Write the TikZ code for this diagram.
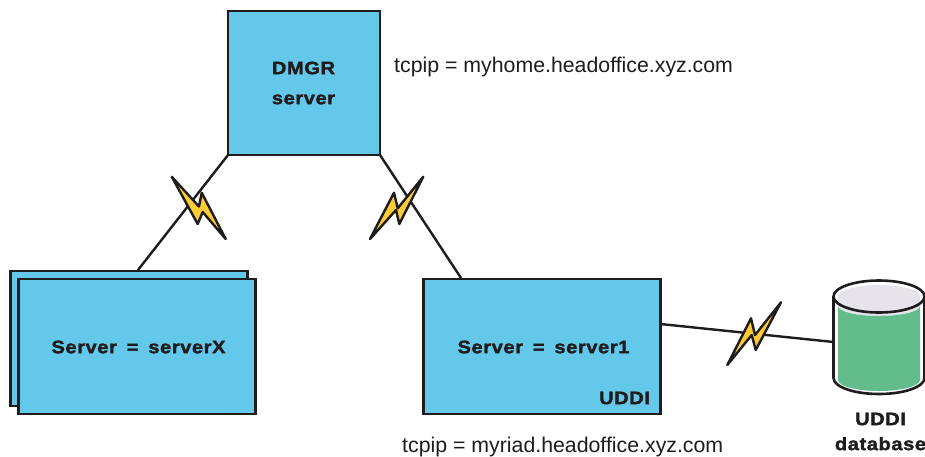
\documentclass[tikz,border=0pt]{standalone}
\usepackage{fontspec}
\setmainfont{Liberation Sans}
\newfontfamily\heavyfont[FakeStretch=1.12,FakeBold=1.8,WordSpace=1.6,LetterSpace=3]{Liberation Sans Bold}
\definecolor{boxblue}{HTML}{64C8EB}
\definecolor{inkline}{HTML}{1E1C1D}
\definecolor{boltyellow}{HTML}{FCCB35}
\definecolor{dbgreen}{HTML}{63BC8C}
\definecolor{dbgrey}{HTML}{E6E4EA}
\tikzset{
  serverbox/.style={draw=inkline,fill=boxblue,line width=2.9pt,minimum width=236pt,minimum height=134pt,inner sep=0pt,outer sep=0pt,anchor=north west},
  heavytext/.style={font=\heavyfont\fontsize{18}{25}\selectfont,text=inkline,align=center,inner sep=0pt},
  plaintext/.style={font=\fontsize{21.3}{24}\selectfont,text=inkline,inner sep=0pt},
  link/.style={draw=inkline,line width=2.4pt},
  boltshape/.style={draw=inkline,fill=boltyellow,line width=2.4pt,line join=round}
}
\begin{document}
\begin{tikzpicture}[x=1pt,y=-1pt]
\useasboundingbox (0,0) rectangle (925,456);
% boxes
\node[serverbox,minimum width=152pt,minimum height=144pt] (dmgr) at (228,11) {};
\node[serverbox,minimum width=237pt,minimum height=135pt] (backserver) at (10.5,271) {};
\node[serverbox,minimum width=237pt,minimum height=135pt] (serverx) at (18.5,279) {};
\node[serverbox,minimum width=237pt,minimum height=135pt] (serverone) at (423.5,279) {};
% text in boxes
\node[heavytext,font=\heavyfont\fontsize{18}{30}\selectfont] (dmgrtext) at (303.5,83) {DMGR\\server};
\node[heavytext] (serverxtext) at (138.5,347) {Server = serverX};
\node[heavytext] (serveronetext) at (543.5,347) {Server = server1};
\node[heavytext] (udditext) at (624.5,398) {UDDI};
% labels
\node[plaintext,anchor=west] (toplabel) at (394,66.8) {tcpip = myhome.headoffice.xyz.com};
\node[plaintext,anchor=west] (bottomlabel) at (402,446.8) {tcpip = myriad.headoffice.xyz.com};
% database
\coordinate (dbtop) at (879,296.5);
\coordinate (dbbot) at (879,378);
\coordinate (dbleft) at (833.5,342);
\filldraw[draw=inkline,fill=white,line width=2.6pt]
  (833.5,296.5) -- (833.5,378) arc[start angle=180,end angle=0,x radius=45.5,y radius=16] -- (924.5,296.5)
  arc[start angle=0,end angle=-180,x radius=45.5,y radius=16] -- cycle;
\fill[dbgrey] (dbtop) ellipse[x radius=41,y radius=11.5];
\fill[dbgrey] (838,297) rectangle (920,306);
\fill[dbgrey] (838,306) arc[start angle=180,end angle=0,x radius=41,y radius=10] -- cycle;
\fill[dbgreen] (838,306) arc[start angle=180,end angle=0,x radius=41,y radius=10] -- (920,380)
  arc[start angle=0,end angle=180,x radius=41,y radius=11] -- cycle;
\draw[draw=inkline,line width=2.6pt] (833.5,296.5) arc[start angle=180,end angle=0,x radius=45.5,y radius=16];
\node[heavytext] (dbtext) at (880.5,431.5) {UDDI\\database};
% connectors
\coordinate (xtop) at (138,270);
\coordinate (onetop) at (461,278);
\draw[link] (dmgr.south west) -- (xtop);
\draw[link] (dmgr.south east) -- (onetop);
\draw[link] (serverone.east |- 0,324) -- (dbleft);
% bolts
\draw[boltshape] (171.7,176.7) -- (199,206.5) -- (201.7,192.7) -- (225.7,239) -- (202.7,212) -- (197.7,224) -- cycle;
\draw[boltshape] (423.3,176.7) -- (399.3,224) -- (396,210) -- (370,239) -- (394,192.7) -- (397.7,208.3) -- cycle;
\draw[boltshape] (781,302.3) -- (755.7,350) -- (751.7,335) -- (727.3,365) -- (751,318.3) -- (755,335) -- cycle;
\end{tikzpicture}
\end{document}
